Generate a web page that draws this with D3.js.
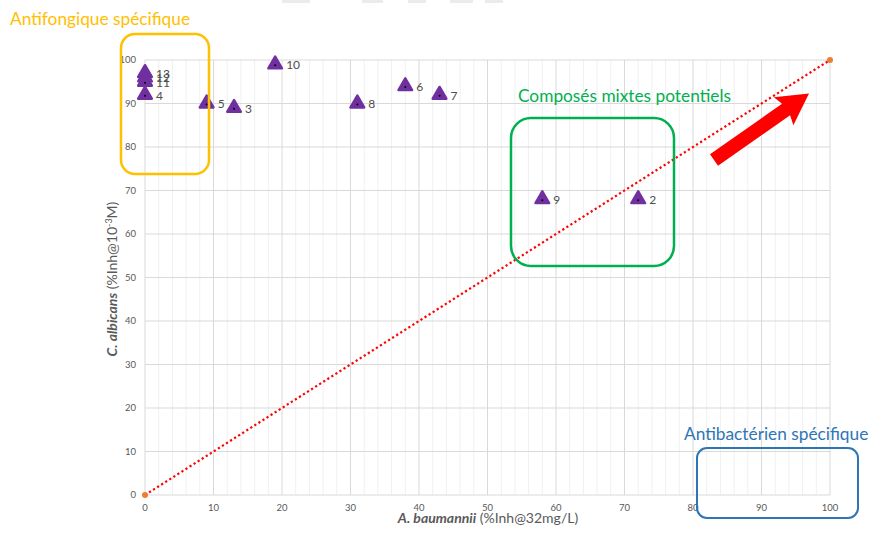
<!DOCTYPE html>
<html>
<head>
<meta charset="utf-8">
<script src="https://cdn.jsdelivr.net/npm/d3@7"></script>
<style>
	body { margin: 0; background: #fff; }
	svg { display: block; font-family: Lato, 'Open Sans', sans-serif; }
	.tick-label { fill: #595959; font-size: 9.5px; }
	.pt-label { fill: #4d4d4d; font-size: 12px; }
	.axis-title { fill: #595959; font-size: 14px; }
	.note { font-size: 17.3px; }
</style>
</head>
<body>
<script>
// compound ids and their scores
const ids = ['13', '12', '11', '4', '5', '3', '10', '8', '6', '7', '9', '2']
const inhBaumannii = [0, 0, 0, 0, 9, 13, 19, 31, 38, 43, 58, 72]
const inhAlbicans = [97, 96, 95, 92, 90, 89, 99, 90, 94, 92, 68, 68]

const ticks = [0, 10, 20, 30, 40, 50, 60, 70, 80, 90, 100]
const diagonal = [0, 100]

const W = 869
const H = 533
const MARGIN = { top: 60, bottom: 38, left: 145, right: 39 }

const svg = d3.select('body').append('svg')
	.attr('width', W)
	.attr('height', H)

const scale = {}
scale.x = d3.scaleLinear().domain([0, 100]).range([MARGIN.left, W - MARGIN.right])
scale.y = d3.scaleLinear().domain([0, 100]).range([H - MARGIN.bottom, MARGIN.top])

// cropped bits at the very top of the screenshot
const topBits = [[282, 310], [362, 383], [408, 426], [450, 473], [485, 503]]
svg.selectAll('.top-bit').data(topBits).enter()
	.append('rect')
	.attr('x', d => d[0]).attr('y', 0)
	.attr('width', d => d[1] - d[0]).attr('height', 3)
	.attr('fill', '#ebebeb')

// grid
const grid = svg.append('g')
grid.selectAll('.minor').data(d3.range(0, 101, 2).filter(d => d % 10))
	.enter().append('line')
	.attr('x1', d => scale.x(d)).attr('x2', d => scale.x(d))
	.attr('y1', scale.y(100)).attr('y2', scale.y(0))
	.attr('stroke', '#f0f0f0').attr('stroke-width', 1)

grid.selectAll('.vmajor').data(ticks).enter().append('line')
	.attr('x1', d => scale.x(d)).attr('x2', d => scale.x(d))
	.attr('y1', scale.y(100)).attr('y2', scale.y(0))
	.attr('stroke', '#d9d9d9').attr('stroke-width', 1)

grid.selectAll('.hmajor').data(ticks).enter().append('line')
	.attr('x1', scale.x(0)).attr('x2', scale.x(100))
	.attr('y1', d => scale.y(d)).attr('y2', d => scale.y(d))
	.attr('stroke', '#d9d9d9').attr('stroke-width', 1)

// tick labels
svg.selectAll('.ylab').data(ticks).enter().append('text')
	.attr('class', 'tick-label')
	.attr('x', scale.x(0) - 9)
	.attr('y', d => scale.y(d))
	.attr('dy', '0.35em')
	.attr('text-anchor', 'end')
	.text(d => d)

svg.selectAll('.xlab').data(ticks).enter().append('text')
	.attr('class', 'tick-label')
	.attr('x', d => scale.x(d))
	.attr('y', scale.y(0) + 16)
	.attr('text-anchor', 'middle')
	.text(d => d)

// axis titles
const xTitle = svg.append('text')
	.attr('class', 'axis-title')
	.attr('x', 488).attr('y', 523)
	.attr('text-anchor', 'middle')
xTitle.append('tspan').attr('font-weight', 'bold').attr('font-style', 'italic').text('A. baumannii')
xTitle.append('tspan').text(' (%Inh@32mg/L)')

const yTitle = svg.append('text')
	.attr('class', 'axis-title')
	.attr('transform', 'translate(117,279) rotate(-90)')
	.attr('text-anchor', 'middle')
yTitle.append('tspan').attr('font-weight', 'bold').attr('font-style', 'italic').text('C. albicans')
yTitle.append('tspan').text(' (%Inh@10')
yTitle.append('tspan').attr('font-size', '9px').attr('dy', -5).text('-3')
yTitle.append('tspan').attr('dy', 5).text('M)')

// dotted diagonal
svg.append('line')
	.attr('x1', scale.x(diagonal[0])).attr('y1', scale.y(diagonal[0]))
	.attr('x2', scale.x(diagonal[1])).attr('y2', scale.y(diagonal[1]))
	.attr('stroke', '#ff0000').attr('stroke-width', 2.2)
	.attr('stroke-dasharray', '2.2 2.6')

svg.selectAll('.end').data(diagonal).enter().append('circle')
	.attr('cx', d => scale.x(d)).attr('cy', d => scale.y(d))
	.attr('r', 3).attr('fill', '#ed7d31')

// points
const points = ids.map((id, i) => ({ id, x: inhBaumannii[i], y: inhAlbicans[i] }))
const tri = d3.symbol().type(d3.symbolTriangle).size(80)

const pt = svg.selectAll('.pt').data(points).enter().append('g')
	.attr('transform', d => `translate(${scale.x(d.x)},${scale.y(d.y)})`)

pt.append('path')
	.attr('d', tri)
	.attr('fill', '#7030a0')
	.attr('stroke', '#7030a0')
	.attr('stroke-width', 2.5)
	.attr('stroke-linejoin', 'round')

pt.append('circle').attr('r', 1).attr('cy', 1).attr('fill', '#000')

pt.append('text')
	.attr('class', 'pt-label')
	.attr('x', 11)
	.attr('dy', '0.4em')
	.text(d => d.id)

// annotation boxes
svg.append('rect')
	.attr('x', 121).attr('y', 34).attr('width', 88).attr('height', 140)
	.attr('rx', 14)
	.attr('fill', 'none').attr('stroke', '#ffc000').attr('stroke-width', 2.5)

svg.append('text').attr('class', 'note')
	.attr('x', 10).attr('y', 25)
	.attr('fill', '#ffc000')
	.text('Antifongique spécifique')

svg.append('rect')
	.attr('x', 511).attr('y', 118).attr('width', 163).attr('height', 148)
	.attr('rx', 20)
	.attr('fill', 'none').attr('stroke', '#00b050').attr('stroke-width', 2.5)

svg.append('text').attr('class', 'note')
	.attr('x', 518).attr('y', 102)
	.attr('fill', '#00b050')
	.text('Composés mixtes potentiels')

svg.append('rect')
	.attr('x', 697).attr('y', 448).attr('width', 161).attr('height', 70)
	.attr('rx', 10)
	.attr('fill', 'none').attr('stroke', '#2e75b6').attr('stroke-width', 2)

svg.append('text').attr('class', 'note')
	.attr('x', 684).attr('y', 440)
	.attr('fill', '#2e75b6')
	.text('Antibactérien spécifique')

// big red arrow
const arrow = d3.path()
arrow.moveTo(0, -7)
arrow.lineTo(88, -7)
arrow.lineTo(85, -17)
arrow.lineTo(116, 0)
arrow.lineTo(85, 17)
arrow.lineTo(88, 7)
arrow.lineTo(0, 7)
arrow.closePath()

svg.append('path')
	.attr('d', arrow.toString())
	.attr('fill', '#ff0000')
	.attr('transform', 'translate(714,160) rotate(-35)')
</script>
</body>
</html>
